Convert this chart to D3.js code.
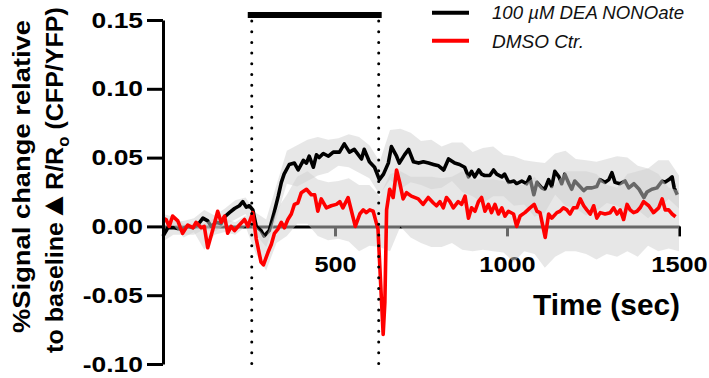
<!DOCTYPE html>
<html>
<head>
<meta charset="utf-8">
<script src="https://cdn.jsdelivr.net/npm/d3@7"></script>
<style>
  body { margin: 0; background: #fff; }
  text { font-family: "Liberation Sans", Arial, sans-serif; }
</style>
</head>
<body>
<div id="chart"></div>
<script>
// --- data ---
const seriesNames = ["100 \u00B5M DEA NONOate", "DMSO Ctr."];

const blackTimes = [0,14,33,52,72,87,101,116,130,140,155,169,179,193,208,222,232,242,251,261,271,285,294,309,323,335,344,352,367,382,393,408,417,425,437,446,454,466,481,495,513,527,542,556,577,585,600,615,629,641,655,664,679,687,702,714,728,743,757,772,786,801,816,830,848,862,877,888,897,906,918,926,935,950,961,970,985,993,1005,1020,1028,1043,1057,1066,1078,1087,1101,1110,1121,1130,1139,1151,1159,1168,1180,1188,1197,1212,1223,1232,1247,1261,1270,1285,1296,1305,1314,1328,1343,1354,1369,1384,1398,1407,1421,1436,1451,1459,1471,1480,1486,1495];
const blackValues = [-0.007,-0.001,-0.001,-0.002,0.000,-0.001,0.001,0.006,0.004,0.000,0.003,0.002,0.007,0.010,0.013,0.015,0.018,0.014,0.015,0.012,0.000,-0.003,-0.007,-0.003,0.010,0.022,0.032,0.038,0.045,0.046,0.041,0.048,0.046,0.051,0.043,0.052,0.050,0.053,0.051,0.054,0.054,0.060,0.054,0.056,0.049,0.056,0.047,0.043,0.034,0.038,0.046,0.058,0.051,0.046,0.052,0.056,0.047,0.046,0.047,0.046,0.045,0.044,0.041,0.049,0.046,0.045,0.043,0.036,0.040,0.036,0.041,0.038,0.037,0.037,0.041,0.038,0.036,0.038,0.032,0.033,0.031,0.033,0.031,0.036,0.023,0.032,0.028,0.027,0.034,0.029,0.040,0.036,0.031,0.038,0.031,0.027,0.033,0.029,0.026,0.028,0.028,0.029,0.034,0.032,0.034,0.039,0.032,0.031,0.033,0.028,0.031,0.027,0.021,0.025,0.027,0.028,0.033,0.032,0.034,0.036,0.028,0.023];

const redTimes = [0,9,18,28,43,57,72,87,96,111,120,130,145,159,169,179,188,198,208,222,237,247,261,271,285,292,305,315,324,334,344,353,363,373,382,392,402,417,431,441,450,460,475,489,504,514,523,538,548,559,572,582,591,601,611,625,633,640,645,650,659,669,679,688,698,708,722,742,756,771,786,795,805,815,824,834,844,858,868,878,888,897,907,917,926,936,946,955,965,975,985,994,1004,1019,1028,1038,1052,1067,1079,1087,1096,1111,1121,1130,1145,1154,1164,1174,1183,1193,1203,1213,1223,1232,1242,1252,1261,1271,1285,1300,1310,1320,1329,1339,1349,1358,1368,1378,1387,1397,1412,1426,1441,1451,1460,1470,1480,1490];
const redValues = [0.006,0.005,0.000,0.0075,0.004,-0.005,0.001,-0.001,0.003,-0.001,0.000,-0.0155,-0.002,0.011,0.003,0.0075,-0.005,0.000,-0.003,0.001,0.005,0.000,0.010,-0.009,-0.026,-0.028,-0.019,-0.013,-0.005,-0.002,0.003,-0.001,0.005,0.009,0.016,0.017,0.0245,0.027,0.023,0.023,0.011,0.020,0.0135,0.015,0.016,0.018,0.0135,0.021,0.011,0.000,0.009,0.012,0.010,0.012,0.011,-0.002,-0.043,-0.0785,-0.055,0.012,0.027,0.021,0.041,0.032,0.020,0.0245,0.022,0.020,0.016,0.021,0.017,0.015,0.018,0.0135,0.021,0.018,0.0135,0.018,0.016,0.022,0.006,0.0135,0.011,0.018,0.021,0.011,0.016,0.010,0.016,0.009,0.0135,0.0075,0.011,0.009,0.000,0.0075,0.010,0.0135,0.016,0.011,0.010,-0.008,0.009,0.006,0.010,0.011,0.0135,0.012,0.009,0.0135,0.0135,0.020,0.015,0.012,0.009,0.015,0.006,0.010,0.009,0.010,0.0135,0.009,0.012,0.005,0.016,0.012,0.010,0.011,0.0135,0.018,0.015,0.010,0.0135,0.020,0.012,0.012,0.009,0.007];

// SEM envelopes (upper / lower edge of the grey bands)
const bandTimes = [0,30,60,90,120,150,180,210,240,270,300,330,360,390,420,450,480,510,540,570,600,630,660,690,720,750,780,810,840,870,900,930,960,990,1020,1050,1080,1110,1140,1170,1200,1230,1260,1290,1320,1350,1380,1410,1440,1470,1500];
const blackHi = [0.001,0.004,0.004,0.006,0.012,0.008,0.013,0.019,0.021,0.010,0.005,0.030,0.055,0.059,0.063,0.065,0.063,0.064,0.067,0.065,0.059,0.047,0.070,0.071,0.068,0.062,0.063,0.058,0.061,0.061,0.054,0.057,0.058,0.052,0.051,0.048,0.047,0.046,0.053,0.055,0.049,0.048,0.047,0.049,0.051,0.050,0.044,0.042,0.048,0.048,0.037];
const blackLo = [-0.011,-0.006,-0.006,-0.006,-0.002,-0.004,0.001,0.005,0.009,-0.006,-0.015,0.006,0.031,0.029,0.033,0.037,0.039,0.044,0.043,0.039,0.035,0.023,0.034,0.027,0.032,0.030,0.027,0.028,0.033,0.025,0.022,0.017,0.022,0.022,0.015,0.016,0.007,0.010,0.023,0.015,0.013,0.008,0.011,0.017,0.015,0.010,0.012,0.006,0.012,0.020,0.013];
const redHi = [0.009,0.007,0.002,0.002,0.002,0.006,0.006,0.003,0.008,0.000,-0.008,0.012,0.023,0.036,0.040,0.034,0.032,0.033,0.035,0.030,0.030,0.022,0.038,0.040,0.036,0.036,0.036,0.035,0.036,0.040,0.034,0.034,0.034,0.033,0.030,0.030,0.036,0.026,0.030,0.040,0.040,0.040,0.038,0.030,0.028,0.038,0.040,0.042,0.038,0.028,0.026];
const redLo = [0.003,0.001,-0.008,-0.004,-0.017,-0.006,-0.004,-0.006,0.000,-0.020,-0.032,-0.012,-0.007,0.002,0.002,-0.007,-0.010,-0.009,-0.011,-0.018,-0.014,-0.015,-0.018,0.000,-0.008,-0.012,-0.015,-0.015,-0.012,-0.017,-0.018,-0.017,-0.018,-0.019,-0.026,-0.018,-0.020,-0.030,-0.022,-0.018,-0.018,-0.020,-0.024,-0.020,-0.022,-0.018,-0.022,-0.014,-0.018,-0.016,-0.018];

const xTicks = [500, 1000, 1500];
const yTicks = [-0.10, -0.05, 0.00, 0.05, 0.10, 0.15];
const stimOn = 258, stimOff = 627;   // NONOate application window (sec)

// --- chart ---
const width = 709, height = 378;
const svg = d3.select("#chart").append("svg")
    .attr("width", width)
    .attr("height", height)
    .style("background", "#fff");

const x = d3.scaleLinear().domain([0, 1500]).range([163, 679]);
const y = d3.scaleLinear().domain([-0.10, 0.15]).range([364, 20]);

// stretch a text to a wider box (the original export is wider than Arial)
function widen(sel, k) {
    sel.each(function() {
        const w = this.getComputedTextLength();
        d3.select(this).attr("textLength", w * k).attr("lengthAdjust", "spacingAndGlyphs");
    });
}

//X axis sits on the zero line, below the bands so they grey it out
const gx = svg.append("g")
    .attr("transform", "translate(0," + y(0) + ")")
    .attr("font-family", "Liberation Sans, Arial, sans-serif")
    .call(d3.axisBottom(x).tickValues(xTicks).tickSize(10).tickSizeOuter(0).tickPadding(20).tickFormat(d3.format("d")));
gx.select(".domain").attr("stroke", "#000").attr("stroke-width", 3);
gx.selectAll(".tick line").attr("stroke", "#000").attr("stroke-width", 3);
gx.selectAll(".tick text").attr("font-size", 22).attr("font-weight", "bold").attr("fill", "#000").call(widen, 1.15);

const area = (lo, hi) => d3.area()
    .x((d, i) => x(bandTimes[i]))
    .y0((d, i) => y(lo[i]))
    .y1((d, i) => y(hi[i]))(bandTimes);

const line = (ts, vs) => d3.line()
    .x((d, i) => x(ts[i]))
    .y((d, i) => y(vs[i]))(ts);

svg.append("path").attr("d", area(blackLo, blackHi))
    .attr("fill", "#d0d0d0").attr("fill-opacity", 0.5);
svg.append("path").attr("d", line(blackTimes, blackValues))
    .attr("fill", "none").attr("stroke", "#000").attr("stroke-width", 3.6).attr("stroke-linejoin", "round");
svg.append("path").attr("d", area(redLo, redHi))
    .attr("fill", "#d0d0d0").attr("fill-opacity", 0.5);
svg.append("path").attr("d", line(redTimes, redValues))
    .attr("fill", "none").attr("stroke", "#ff0000").attr("stroke-width", 3.6).attr("stroke-linejoin", "round");

//Y axis
const gy = svg.append("g")
    .attr("transform", "translate(" + x(0) + ",0)")
    .attr("font-family", "Liberation Sans, Arial, sans-serif")
    .call(d3.axisLeft(y).tickValues(yTicks).tickSize(16).tickSizeOuter(0).tickPadding(4).tickFormat(d => d.toFixed(2)));
gy.select(".domain").attr("stroke", "#000").attr("stroke-width", 3);
gy.selectAll(".tick line").attr("stroke", "#000").attr("stroke-width", 3);
gy.selectAll(".tick text").attr("font-size", 22).attr("font-weight", "bold").attr("fill", "#000").call(widen, 1.2);

// stimulus window: dotted verticals + black bar
svg.selectAll("line.stim")
    .data([stimOn, stimOff])
    .enter().append("line")
    .attr("class", "stim")
    .attr("x1", d => x(d)).attr("x2", d => x(d))
    .attr("y1", 21).attr("y2", 367)
    .attr("stroke", "#000").attr("stroke-width", 3)
    .attr("stroke-linecap", "round").attr("stroke-dasharray", "0 10.7");

svg.append("rect")
    .attr("x", x(stimOn) - 4)
    .attr("y", 12)
    .attr("width", x(stimOff) - x(stimOn) + 7)
    .attr("height", 6)
    .attr("fill", "#000");

// legend
const legend = svg.append("g");
[["#000", 12.7, 18.5], ["#ff0000", 40.7, 48]].forEach((c, i) => {
    legend.append("line")
        .attr("x1", 432).attr("x2", 469)
        .attr("y1", c[1]).attr("y2", c[1])
        .attr("stroke", c[0]).attr("stroke-width", 4);
    legend.append("text")
        .attr("x", 492).attr("y", c[2])
        .attr("font-size", 17.5).attr("font-style", "italic").attr("fill", "#111")
        .attr("textLength", i === 0 ? 192 : 92).attr("lengthAdjust", "spacingAndGlyphs")
        .text(seriesNames[i]);
});

// axis titles
svg.append("text")
    .attr("x", 680).attr("y", 315)
    .attr("text-anchor", "end")
    .attr("font-size", 29).attr("font-weight", "bold")
    .attr("textLength", 147).attr("lengthAdjust", "spacingAndGlyphs")
    .text("Time (sec)");

svg.append("g").attr("transform", "translate(30,176.5) rotate(-90)")
    .append("text")
    .attr("text-anchor", "middle")
    .attr("font-size", 24).attr("font-weight", "bold")
    .attr("textLength", 313).attr("lengthAdjust", "spacingAndGlyphs")
    .text("%Signal change relative");

const t2 = svg.append("g").attr("transform", "translate(63,180) rotate(-90)")
    .append("text")
    .attr("text-anchor", "middle")
    .attr("font-size", 24).attr("font-weight", "bold");
t2.append("tspan").text("to baseline");
t2.append("tspan").attr("font-size", 31).text("\u25B2");
t2.append("tspan").text("R/R");
t2.append("tspan").attr("font-size", 16).attr("dy", 6).text("o");
t2.append("tspan").attr("dy", -6).text(" (CFP/YFP)");
const t2w = t2.node().getComputedTextLength();
t2.attr("transform", "scale(" + (346 / t2w) + ",1)");
</script>
</body>
</html>
